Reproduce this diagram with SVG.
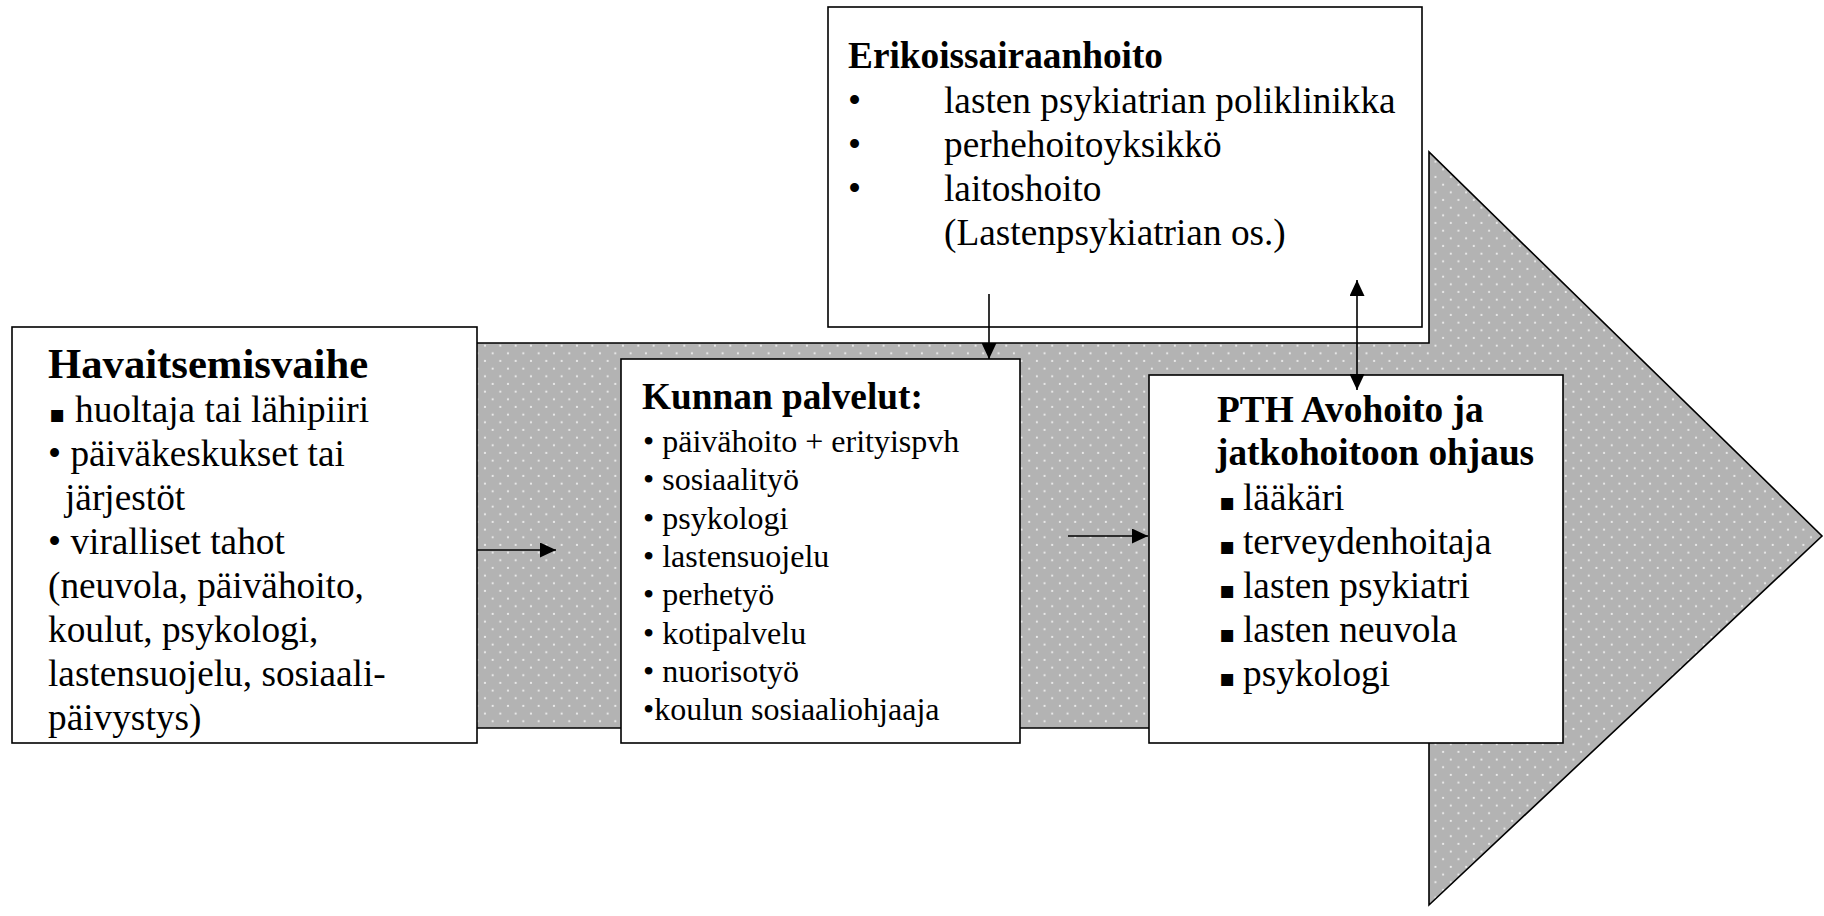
<svg xmlns="http://www.w3.org/2000/svg" width="1824" height="916" viewBox="0 0 1824 916">
  <style>
    .box{fill:#fff;stroke:#000;stroke-width:1.6}
    .t{font-family:"Liberation Serif","Times New Roman",serif;fill:#000;font-size:37.3px}
    .s{font-size:32px}
    .b{font-weight:bold}
    .big{font-size:42.7px}
    .sq{font-family:"DejaVu Sans",sans-serif;font-size:24px}
    .conn{stroke:#000;stroke-width:1.6;fill:none}
  </style>
  <defs>
    <!-- grey fill sprinkled with small light dots -->
    <pattern id="dots" patternUnits="userSpaceOnUse" x="481.2" y="341.9" width="15.33" height="15.33">
      <rect width="15.33" height="15.33" fill="#b3b3b3"/>
      <circle cx="3.8" cy="3.8" r="1.1" fill="#ededed"/>
      <circle cx="11.47" cy="11.47" r="1.1" fill="#ededed"/>
    </pattern>
    <marker id="head" markerUnits="userSpaceOnUse" markerWidth="16" markerHeight="15" refX="16" refY="7.5" orient="auto-start-reverse">
      <path d="M0,0 L16,7.5 L0,15 Z" fill="#000"/>
    </marker>
  </defs>

  <!-- large background block arrow -->
  <g id="flow-arrow">
    <polygon points="470,343 1429,343 1429,152 1822,536 1429,905 1429,728 470,728" fill="url(#dots)" stroke="#000" stroke-width="1.6"/>
  </g>

  <g id="havaitsemisvaihe">
    <rect class="box" x="12" y="327" width="465" height="416"/>
    <text class="t b big" x="48" y="378">Havaitsemisvaihe</text>
    <text class="t" y="422"><tspan class="sq" x="49">▪</tspan><tspan x="75">huoltaja tai lähipiiri</tspan></text>
    <text class="t" x="48" y="466">• päiväkeskukset tai</text>
    <text class="t" x="65" y="510">järjestöt</text>
    <text class="t" x="48" y="554">• viralliset tahot</text>
    <text class="t" x="48" y="598">(neuvola, päivähoito,</text>
    <text class="t" x="48" y="642">koulut, psykologi,</text>
    <text class="t" x="48" y="686">lastensuojelu, sosiaali-</text>
    <text class="t" x="48" y="730">päivystys)</text>
  </g>

  <g id="kunnan-palvelut">
    <rect class="box" x="621" y="359" width="399" height="384"/>
    <text class="t b" x="642" y="409">Kunnan palvelut:</text>
    <text class="t s" x="643" y="452">• päivähoito + erityispvh</text>
    <text class="t s" x="643" y="490.3">• sosiaalityö</text>
    <text class="t s" x="643" y="528.6">• psykologi</text>
    <text class="t s" x="643" y="566.9">• lastensuojelu</text>
    <text class="t s" x="643" y="605.2">• perhetyö</text>
    <text class="t s" x="643" y="643.5">• kotipalvelu</text>
    <text class="t s" x="643" y="681.8">• nuorisotyö</text>
    <text class="t s" x="643" y="720">•koulun sosiaaliohjaaja</text>
  </g>

  <g id="erikoissairaanhoito">
    <rect class="box" x="828" y="7" width="594" height="320"/>
    <text class="t b" x="848" y="68">Erikoissairaanhoito</text>
    <text class="t" y="113"><tspan x="848">•</tspan><tspan x="944">lasten psykiatrian poliklinikka</tspan></text>
    <text class="t" y="157"><tspan x="848">•</tspan><tspan x="944">perhehoitoyksikkö</tspan></text>
    <text class="t" y="201"><tspan x="848">•</tspan><tspan x="944">laitoshoito</tspan></text>
    <text class="t" x="944" y="245">(Lastenpsykiatrian os.)</text>
  </g>

  <g id="pth-avohoito">
    <rect class="box" x="1149" y="375" width="414" height="368"/>
    <text class="t b" x="1217" y="422">PTH Avohoito ja</text>
    <text class="t b" x="1216" y="465">jatkohoitoon ohjaus</text>
    <text class="t" y="510"><tspan class="sq" x="1219">▪</tspan><tspan x="1243">lääkäri</tspan></text>
    <text class="t" y="554"><tspan class="sq" x="1219">▪</tspan><tspan x="1243">terveydenhoitaja</tspan></text>
    <text class="t" y="598"><tspan class="sq" x="1219">▪</tspan><tspan x="1243">lasten psykiatri</tspan></text>
    <text class="t" y="642"><tspan class="sq" x="1219">▪</tspan><tspan x="1243">lasten neuvola</tspan></text>
    <text class="t" y="686"><tspan class="sq" x="1219">▪</tspan><tspan x="1243">psykologi</tspan></text>
  </g>

  <g id="connectors">
    <line class="conn" x1="477" y1="550" x2="556" y2="550" marker-end="url(#head)"/>
    <line class="conn" x1="1068" y1="536" x2="1148" y2="536" marker-end="url(#head)"/>
    <line class="conn" x1="989" y1="294" x2="989" y2="359" marker-end="url(#head)"/>
    <line class="conn" x1="1357" y1="280" x2="1357" y2="390" marker-start="url(#head)" marker-end="url(#head)"/>
  </g>
</svg>
